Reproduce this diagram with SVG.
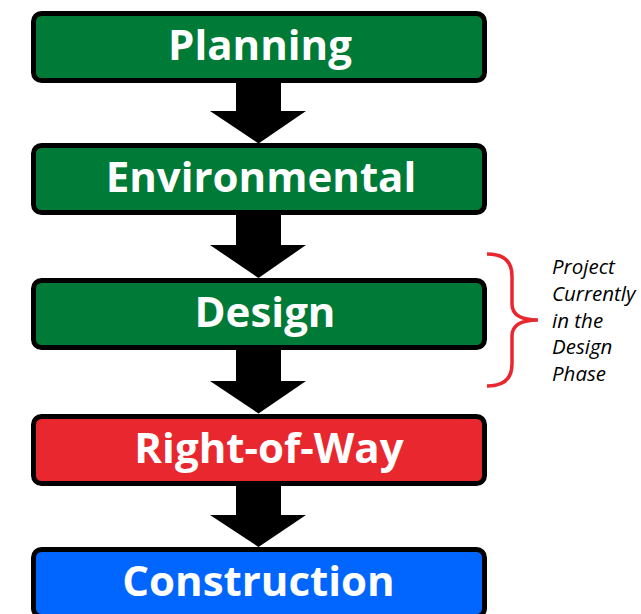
<svg xmlns="http://www.w3.org/2000/svg" width="641" height="614" viewBox="0 0 641 614">
<style>
.box{stroke:#000;stroke-width:5;}
.g{fill:#007A37;}
.r{fill:#E8282E;}
.b{fill:#0066FF;}
.lbl{font-family:"Open Sans","DejaVu Sans",sans-serif;font-weight:bold;font-size:42px;fill:#fff;text-anchor:middle;}
.note{font-family:"Open Sans","DejaVu Sans",sans-serif;font-style:italic;font-size:20.5px;fill:#000;}
.arr{fill:#000;}
</style>
<rect width="641" height="614" fill="#fff"/>
<g id="connectors">
<polygon class="arr" points="236,82 281,82 281,111 306,111 258.5,143.5 210,111 236,111"/>
<polygon class="arr" points="236,214 281,214 281,245 306,245 258.5,278 210,245 236,245"/>
<polygon class="arr" points="236,349 281,349 281,381 306,381 258.5,413.5 210,381 236,381"/>
<polygon class="arr" points="236,485 281,485 281,515 306,515 258.5,547 210,515 236,515"/>
</g>
<g id="planning">
<rect class="box g" x="33.5" y="13.5" width="451" height="67" rx="8"/>
<text class="lbl" x="260" y="60">Planning</text>
</g>
<g id="environmental">
<rect class="box g" x="33.5" y="145.5" width="451" height="67" rx="8"/>
<text class="lbl" x="261" y="192">Environmental</text>
</g>
<g id="design">
<rect class="box g" x="33.5" y="280.5" width="451" height="67" rx="8"/>
<text class="lbl" x="265" y="327">Design</text>
</g>
<g id="right-of-way">
<rect class="box r" x="33.5" y="416.5" width="451" height="67" rx="8"/>
<text class="lbl" x="269" y="463">Right-of-Way</text>
</g>
<g id="construction">
<rect class="box b" x="33.5" y="549.5" width="451" height="67" rx="8"/>
<text class="lbl" x="258.5" y="596">Construction</text>
</g>
<g id="brace-note">
<path d="M487,254 Q512,254 512,276 L512,304 Q512,320 538,320 Q512,320 512,336 L512,364 Q512,386 487,386" fill="none" stroke="#E8282E" stroke-width="3.5"/>
<text class="note" x="552">
<tspan x="552" y="274">Project</tspan>
<tspan x="552" y="301">Currently</tspan>
<tspan x="552" y="327.5">in the</tspan>
<tspan x="552" y="354">Design</tspan>
<tspan x="552" y="381">Phase</tspan>
</text>
</g>
</svg>
